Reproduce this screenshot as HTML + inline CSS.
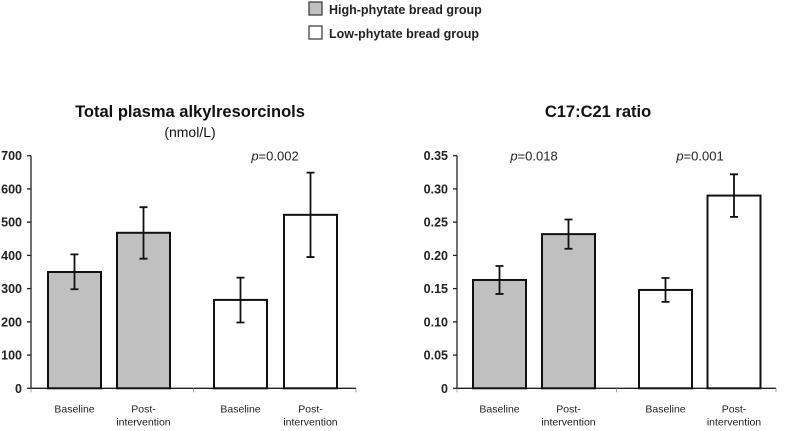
<!DOCTYPE html>
<html><head><meta charset="utf-8"><style>
body{margin:0;background:#fff;width:787px;height:426px;overflow:hidden}
svg{font-family:"Liberation Sans",Arial,sans-serif}
</style></head><body>
<svg id="svg" width="787" height="426">
<g>
<rect x="309" y="2" width="13" height="13" fill="#c0c0c0" stroke="#333" stroke-width="1.2"/>
<text x="329" y="14" font-size="12.5" font-weight="bold" fill="#222">High-phytate bread group</text>
<rect x="309" y="26" width="13" height="13" fill="#fff" stroke="#333" stroke-width="1.2"/>
<text x="329" y="38" font-size="12.5" font-weight="bold" fill="#222">Low-phytate bread group</text>
</g>
<text x="190" y="117" font-size="16.5" font-weight="bold" text-anchor="middle" fill="#111">Total plasma alkylresorcinols</text>
<text x="190" y="137" font-size="14" text-anchor="middle" fill="#111">(nmol/L)</text>
<text x="598" y="117" font-size="16.5" font-weight="bold" text-anchor="middle" fill="#111">C17:C21 ratio</text>
</svg>
<script>
const categories=["Baseline","Post-intervention","Baseline","Post-intervention"];
const leftValues=[350,468,266,522];
const leftErrLow=[298,390,198,395];
const leftErrHigh=[403,545,333,649];
const leftTicks=[0,100,200,300,400,500,600,700];
const leftPLabels=["","","","p=0.002"];
const rightValues=[0.163,0.232,0.148,0.290];
const rightErrLow=[0.142,0.210,0.130,0.258];
const rightErrHigh=[0.184,0.254,0.166,0.322];
const rightTicks=[0,0.05,0.10,0.15,0.20,0.25,0.30,0.35];
const rightTickLabels=["0","0.05","0.10","0.15","0.20","0.25","0.30","0.35"];
const rightPLabels=["","p=0.018","","p=0.001"];
const fills=["#c0c0c0","#c0c0c0","#fff","#fff"];
const svg=document.getElementById('svg');
const NS="http://www.w3.org/2000/svg";
function mk(t,a,p){const e=document.createElementNS(NS,t);for(const k in a)e.setAttribute(k,a[k]);(p||svg).appendChild(e);return e;}
function chart(cfg){
  const g=mk('g',{});
  
  
  const y=v=>cfg.y0-(v-0)/cfg.max*(cfg.y0-cfg.yTop);
  const ax=mk('line',{x1:cfg.ax,x2:cfg.ax,y1:cfg.yTop,y2:cfg.y0,stroke:'#222','stroke-width':1.3},g);
  
  
  const xa=mk('line',{x1:cfg.ax,x2:cfg.axEnd,y1:cfg.y0,y2:cfg.y0,stroke:'#222','stroke-width':1.3},g);
  
  
  [cfg.ax,(cfg.ax+cfg.axEnd)/2,cfg.axEnd].forEach(x=>{
    const t=mk('line',{x1:x,x2:x,y1:cfg.y0,y2:cfg.y0+4,stroke:'#888','stroke-width':0.8},g);
    
    
  });
  cfg.ticks.forEach((v,i)=>{
    const t=mk('line',{x1:cfg.ax-4,x2:cfg.ax,y1:y(v),y2:y(v),stroke:'#222','stroke-width':1.3},g);
    
    
    const l=mk('text',{x:cfg.ax-9,y:y(v)+4.5,'font-size':12.5,'font-weight':'bold','text-anchor':'end',fill:'#222'},g);
    l.textContent=cfg.tickLabels[i];
    
    
  });
  cfg.values.forEach((v,i)=>{
    const x=cfg.barX[i], w=cfg.barW, cx=x+w/2;
    const r=mk('rect',{x:x,y:y(v),width:w,height:cfg.y0-y(v),fill:fills[i],stroke:'#111','stroke-width':2},g);
    
    
    const lo=y(cfg.lo[i]),hi=y(cfg.hi[i]);
    const e=mk('path',{d:`M${cx},${lo}V${hi}M${cx-4},${lo}H${cx+4}M${cx-4},${hi}H${cx+4}`,stroke:'#111','stroke-width':1.8,fill:'none'},g);
    
    
    const words=categories[i].split('-');
    const c=mk('text',{x:cx,y:cfg.y0+24,'font-size':10.5,'text-anchor':'middle',fill:'#222'},g);
    
    
    if(words.length>1){
      const a=mk('tspan',{x:cx},c);a.textContent=words[0]+'-';
      const b=mk('tspan',{x:cx,dy:13},c);b.textContent=words[1];
    } else c.textContent=words[0];
    if(cfg.p[i]){
      const p=mk('text',{x:cfg.pX[i],y:cfg.yTop+5,'font-size':13,'text-anchor':'middle',fill:'#222'},g);
      
      
      const it=mk('tspan',{'font-style':'italic'},p);it.textContent='p';
      const rest=mk('tspan',{},p);rest.textContent=cfg.p[i].slice(1);
    }
  });
}
chart({name:'left-chart',ax:31,axEnd:356,y0:388.3,yTop:155.7,max:700,ticks:leftTicks,tickLabels:leftTicks.map(String),
  values:leftValues,lo:leftErrLow,hi:leftErrHigh,barX:[48,117,214,284],barW:53,p:leftPLabels,pX:[0,0,0,275]});
chart({name:'right-chart',ax:457,axEnd:776,y0:388.3,yTop:155.7,max:0.35,ticks:rightTicks,tickLabels:rightTickLabels,
  values:rightValues,lo:rightErrLow,hi:rightErrHigh,barX:[473,542,639,707.5],barW:53,p:rightPLabels,pX:[0,534,0,700]});
</script>
</body></html>
